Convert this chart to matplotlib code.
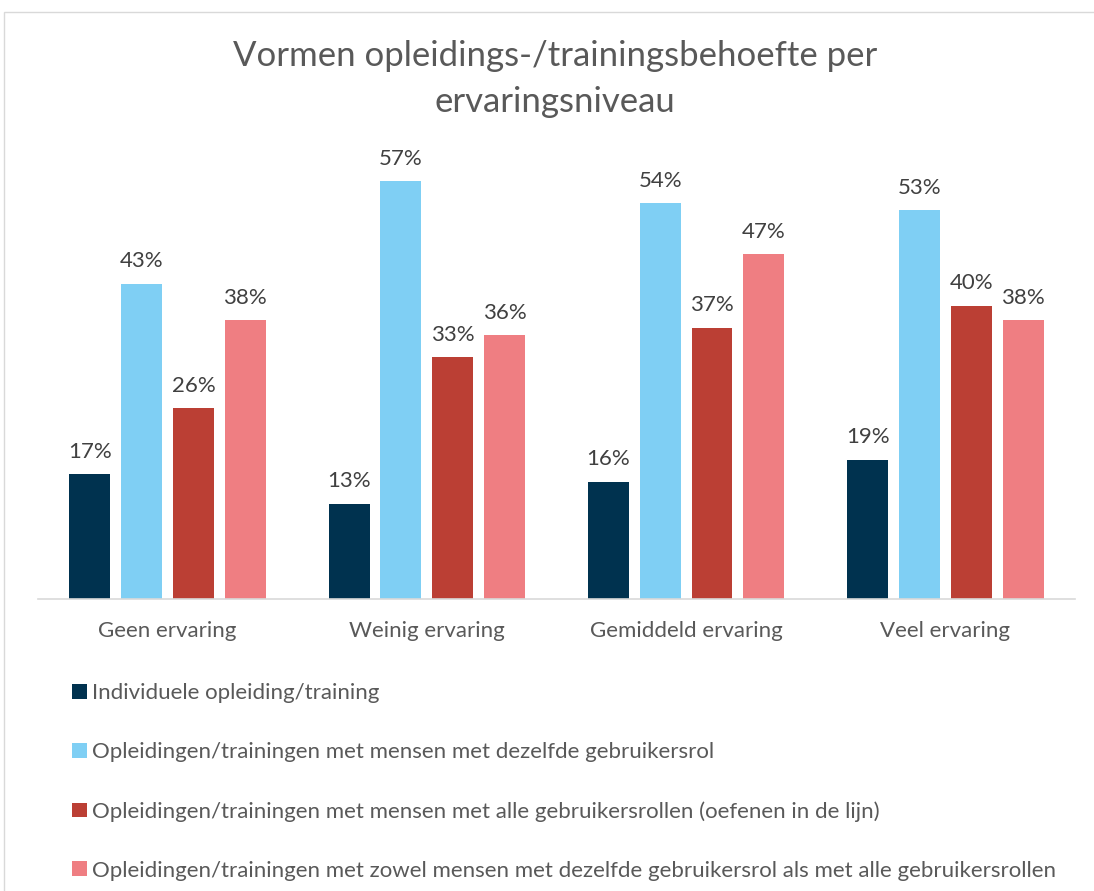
import matplotlib.pyplot as plt
import numpy as np
from matplotlib.patches import Rectangle

plt.rcParams['font.family'] = ['Lato', 'DejaVu Sans']

groepen = ["Geen ervaring", "Weinig ervaring", "Gemiddeld ervaring", "Veel ervaring"]
reeksen = [
    "Individuele opleiding/training",
    "Opleidingen/trainingen met mensen met dezelfde gebruikersrol",
    "Opleidingen/trainingen met mensen met alle gebruikersrollen (oefenen in de lijn)",
    "Opleidingen/trainingen met zowel mensen met dezelfde gebruikersrol als met alle gebruikersrollen",
]
individueel = [17, 13, 16, 19]
zelfde_rol = [43, 57, 54, 53]
alle_rollen = [26, 33, 37, 40]
beide = [38, 36, 47, 38]
kleuren = ["#00324f", "#7fcff4", "#bb3f34", "#ef7e82"]

waarden = [individueel, zelfde_rol, alle_rollen, beide]
tekst = "#595959"

fig = plt.figure(figsize=(10.94, 8.91), dpi=100)
# lichte rand om de grafiek
fig.patches.append(Rectangle((4 / 1094, -0.01), 1.2, 0.997, transform=fig.transFigure,
                             fill=False, edgecolor="#d9d9d9", linewidth=1))
ax = fig.add_axes([0.0347, 0.3277, 0.9479, 0.4938])

x = np.arange(len(groepen))
breedte = 0.158
stap = 0.2
for i, (vals, kleur, naam) in enumerate(zip(waarden, kleuren, reeksen)):
    pos = x + (i - 1.5) * stap
    bars = ax.bar(pos, vals, breedte, color=kleur, label=naam)
    for b, v in zip(bars, vals):
        ax.text(b.get_x() + b.get_width() / 2, v + 1.7, f"{v}%", ha="center", va="bottom",
                fontsize=16, color="#404040", clip_on=False)

ax.set_xlim(-0.5, 3.5)
ax.set_ylim(0, 60)
ax.set_yticks([])
ax.set_xticks(x)
ax.set_xticklabels(groepen, fontsize=16, color=tekst)
ax.tick_params(axis="x", length=0, pad=16)
for s in ["top", "right", "left"]:
    ax.spines[s].set_visible(False)
ax.spines["bottom"].set_color("#d9d9d9")
ax.spines["bottom"].set_linewidth(1.2)

fig.text(0.507, 0.911, "Vormen opleidings-/trainingsbehoefte per\nervaringsniveau", ha="center",
         va="center", fontsize=25, color=tekst, linespacing=1.55)

handles, labels = ax.get_legend_handles_labels()
leg = fig.legend(handles, labels, loc="upper left", bbox_to_anchor=(0.058, 0.243),
                 frameon=False, fontsize=16, labelcolor=tekst, handlelength=0.65,
                 handleheight=0.65, handletextpad=0.25, labelspacing=1.75, borderaxespad=0)

fig.savefig("out.png", dpi=100)
